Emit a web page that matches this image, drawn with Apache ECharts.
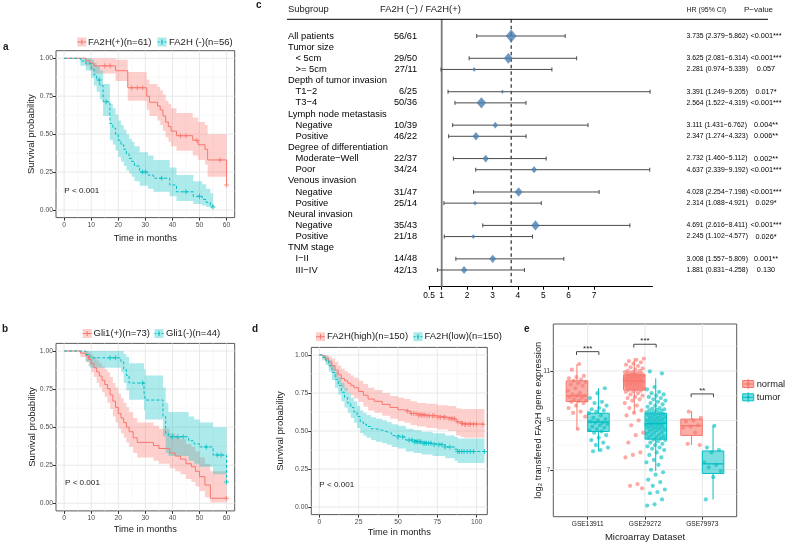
<!DOCTYPE html>
<html><head><meta charset="utf-8">
<script src="https://cdn.jsdelivr.net/npm/echarts@6/dist/echarts.min.js"></script>
<style>html,body{margin:0;padding:0;background:#fff}#c{width:786px;height:543px}</style>
</head><body><div id="c"></div><script>
const FONT = '"Liberation Sans", Arial, Helvetica, sans-serif';
const RED = '#F8766D', TEAL = '#00BFC4';
const RED_BAND = 'rgba(248,118,109,0.34)', TEAL_BAND = 'rgba(0,191,196,0.32)';

// ---------------- Panel a : FA2H(+) / FA2H(-) ----------------
const aPosT  = [0, 8, 9.5, 11, 19, 23.5, 30.5, 31.5, 34.5, 35.5, 36.5, 37.5, 38.5, 39.5, 41.5, 47.5, 49.5, 52, 53, 60];
const aPosS  = [1, .983, .967, .95, .918, .806, .75, .71, .685, .66, .62, .58, .55, .52, .49, .46, .43, .40, .33, .165];
const aPosHi = [1, 1, 1, 1, .99, .91, .86, .83, .81, .79, .76, .72, .70, .67, .64, .61, .58, .56, .50, .42];
const aPosLo = [1, .95, .92, .90, .85, .72, .66, .62, .59, .56, .52, .48, .45, .42, .39, .36, .33, .30, .22, .06];
const aPosCens = [15, 17, 25, 27, 29, 43, 45, 49, 57.5, 60];
const aNegT  = [0, 6, 8, 10, 11, 12, 13.2, 14.4, 16.9, 18, 19, 20, 21, 22, 23, 24, 25, 26, 27.9, 31, 33, 39, 41.5, 47.7, 51, 52.5, 54, 55];
const aNegS  = [1, .982, .964, .93, .89, .857, .82, .714, .57, .54, .50, .46, .43, .40, .37, .34, .32, .29, .25, .23, .21, .165, .12, .09, .07, .05, .03, .02];
const aNegHi = [1, 1, 1, .99, .97, .95, .92, .83, .70, .67, .63, .59, .56, .53, .50, .47, .45, .42, .38, .36, .33, .28, .23, .19, .17, .14, .11, .10];
const aNegLo = [1, .95, .92, .87, .82, .78, .73, .62, .46, .43, .39, .35, .32, .29, .26, .24, .22, .19, .16, .14, .12, .09, .06, .04, .03, .02, .01, .005];
const aNegCens = [13, 15.5, 29, 30, 36, 45, 50, 55];

// ---------------- Panel b : Gli1(+) / Gli1(-) ----------------
const bPosT  = [0, 6, 8, 9, 10, 11, 12, 13, 14, 15, 16, 17, 18, 19, 20, 21, 22, 23, 24, 25.5, 27, 33, 35, 39, 41, 43, 45, 47, 48.5, 50, 52, 54, 60];
const bPosS  = [1, .986, .97, .945, .918, .89, .863, .836, .808, .78, .753, .712, .671, .63, .59, .56, .53, .50, .47, .43, .40, .38, .36, .33, .31, .29, .26, .24, .21, .175, .12, .033, .033];
const bPosHi = [1, 1, 1, .99, .975, .96, .94, .92, .90, .88, .86, .83, .79, .76, .72, .69, .66, .63, .60, .56, .53, .51, .49, .46, .44, .42, .39, .37, .34, .30, .26, .21, .21];
const bPosLo = [1, .96, .93, .90, .86, .83, .79, .76, .73, .70, .66, .62, .57, .53, .49, .46, .43, .40, .37, .33, .30, .28, .26, .23, .21, .19, .16, .14, .11, .08, .04, .005, .005];
const bPosCens = [60];
const bNegT  = [0, 8, 9.5, 21, 22, 23, 24, 29.5, 30, 36.5, 37.5, 38.5, 46, 48, 50, 55, 60];
const bNegS  = [1, .977, .955, .93, .88, .84, .79, .73, .678, .57, .46, .437, .41, .39, .37, .317, .14];
const bNegHi = [1, 1, 1, 1, .98, .96, .92, .88, .84, .76, .66, .60, .57, .55, .53, .50, .45];
const bNegLo = [1, .93, .89, .86, .79, .74, .68, .61, .55, .44, .33, .31, .28, .26, .24, .19, .03];
const bNegCens = [17, 19, 29, 40, 42, 44, 52.5, 56.5, 58, 60];

// ---------------- Panel d : FA2H(high) / FA2H(low) ----------------
const dHighT  = [0, 2, 4, 6, 8, 10, 12, 14, 16, 18, 20, 22, 25, 28, 31, 35, 40, 45, 50, 54, 58, 62, 68, 75, 82, 87, 90, 92, 105];
const dHighS  = [1, .99, .975, .955, .93, .90, .87, .845, .83, .815, .80, .785, .76, .735, .71, .695, .675, .655, .64, .63, .615, .605, .60, .59, .58, .56, .55, .545, .545];
const dHighHi = [1, 1, 1, .99, .975, .955, .93, .91, .895, .88, .865, .85, .83, .81, .785, .77, .75, .73, .72, .71, .695, .685, .68, .67, .665, .65, .645, .645, .645];
const dHighLo = [1, .975, .95, .92, .89, .85, .81, .785, .765, .75, .735, .715, .69, .66, .635, .62, .60, .58, .565, .555, .54, .53, .52, .51, .50, .47, .46, .455, .455];
const dHighCens = [56, 58.5, 60, 61.5, 63, 64, 65, 66, 67, 68.5, 70, 72, 73, 75.5, 77, 79, 80, 82.5, 84, 85, 86, 88, 90.5, 91, 92.5, 93, 95, 96, 98, 100, 104];
const dLowT  = [0, 2, 4, 6, 8, 10, 12, 14, 16, 18, 20, 22, 24, 26, 28, 30, 33, 36, 40, 43, 46, 50, 55, 60, 65, 72, 80, 86, 88, 105];
const dLowS  = [1, .985, .965, .93, .885, .84, .80, .755, .72, .685, .655, .625, .595, .56, .545, .53, .515, .505, .495, .485, .47, .46, .44, .43, .42, .41, .395, .38, .365, .365];
const dLowHi = [1, 1, .99, .965, .93, .89, .855, .815, .785, .75, .72, .695, .665, .635, .62, .605, .59, .58, .57, .56, .545, .535, .515, .505, .495, .485, .47, .46, .45, .45];
const dLowLo = [1, .965, .935, .89, .835, .785, .74, .695, .655, .62, .585, .555, .52, .485, .47, .455, .44, .43, .42, .41, .395, .385, .365, .355, .345, .335, .32, .305, .29, .29];
const dLowCens = [50, 53, 57, 59, 60.5, 61.5, 62.5, 63.5, 64.5, 66, 67, 68, 69.5, 71, 73, 76, 78, 80, 83, 88, 89, 90.5, 92, 94, 96, 98, 105];

// ---------------- Panel c : forest plot ----------------
const fLabels = ['All patients','Tumor size','< 5cm','>= 5cm','Depth of tumor invasion','T1\u22122','T3\u22124','Lymph node metastasis','Negative','Positive','Degree of differentiation','Moderate\u2212Well','Poor','Venous invasion','Negative','Positive','Neural invasion','Negative','Positive','TNM stage','I\u2212II','III\u2212IV'];
const fIndent = [0,0,1,1,0,1,1,0,1,1,0,1,1,0,1,1,0,1,1,0,1,1];
const fCounts = ['56/61','','29/50','27/11','','6/25','50/36','','10/39','46/22','','22/37','34/24','','31/47','25/14','','35/43','21/18','','14/48','42/13'];
const fHR   = [3.735,null,3.625,2.281,null,3.391,2.564,null,3.111,2.347,null,2.732,4.637,null,4.028,2.314,null,4.691,2.245,null,3.008,1.881];
const fLow  = [2.379,null,2.081,0.974,null,1.249,1.522,null,1.431,1.274,null,1.460,2.339,null,2.254,1.088,null,2.616,1.102,null,1.557,0.831];
const fHigh = [5.862,null,6.314,5.339,null,9.205,4.319,null,6.762,4.323,null,5.112,9.192,null,7.198,4.921,null,8.411,4.577,null,5.809,4.258];
const fP = ['<0.001***','','<0.001***','0.057','','0.017*','<0.001***','','0.004**','0.006**','','0.002**','<0.001***','','<0.001***','0.029*','','<0.001***','0.026*','','0.001**','0.130'];
const fWeight = [11,null,9,4,null,3.5,9.5,null,5.5,7,null,6.5,6,null,8,4,null,8.5,4,null,7,6.5];
const fTicks = [0.5,1,2,3,4,5,6,7];

// ---------------- Panel e : microarray boxplots ----------------
const eCats = ['GSE13911','GSE29272','GSE79973'];
const eGroups = ['normal','tumor'];
const e13Normal = [11.28,11.05,10.8,10.75,10.7,10.65,10.6,10.55,10.5,10.45,10.4,10.3,10.2,10.1,10.05,10.0,10.0,9.95,9.9,9.85,9.8,9.78,9.75,9.7,9.6,9.5,9.35,9.3,9.15,8.65];
const e13Tumor = [10.3,10.1,9.9,9.75,9.7,9.6,9.5,9.45,9.4,9.35,9.3,9.2,9.1,9.05,9.0,8.95,8.9,8.9,8.85,8.8,8.75,8.7,8.65,8.6,8.55,8.5,8.4,8.3,8.2,8.1,8.0,7.9,7.8,7.75];
const e29Normal = [11.5,11.45,11.4,11.35,11.3,11.25,11.2,11.15,11.1,11.05,11.0,11.0,10.95,10.95,10.9,10.9,10.9,10.88,10.86,10.85,10.84,10.82,10.8,10.8,10.78,10.76,10.75,10.74,10.72,10.7,10.7,10.68,10.66,10.65,10.64,10.62,10.6,10.6,10.58,10.56,10.55,10.54,10.52,10.5,10.5,10.48,10.46,10.45,10.42,10.4,10.38,10.36,10.35,10.32,10.3,10.28,10.25,10.23,10.2,10.18,10.15,10.1,10.05,10.0,9.95,9.9,9.85,9.8,9.7,9.6,9.5,9.4,9.3,9.2,9.0,8.8,8.5,8.4,8.1,7.7,7.6,7.5,6.42,6.35,6.25];
const e29Tumor = [10.98,10.9,10.35,10.25,10.15,10.1,10.05,10.0,9.95,9.9,9.85,9.8,9.75,9.7,9.65,9.6,9.55,9.5,9.48,9.45,9.42,9.4,9.38,9.35,9.32,9.3,9.28,9.25,9.22,9.2,9.18,9.15,9.12,9.1,9.08,9.05,9.02,9.0,8.98,8.95,8.92,8.9,8.88,8.86,8.84,8.82,8.8,8.78,8.75,8.72,8.7,8.68,8.65,8.62,8.6,8.56,8.52,8.5,8.46,8.42,8.4,8.36,8.32,8.3,8.26,8.22,8.2,8.15,8.1,8.05,8.0,7.95,7.9,7.85,7.8,7.7,7.6,7.5,7.4,7.3,7.2,7.0,6.9,6.8,6.6,6.5,6.35,6.2,6.1,6.05,5.8,5.6,5.55];
const e79Normal = [9.35,9.1,9.0,8.95,8.8,8.75,8.7,8.5,8.05,8.0];
const e79Tumor = [8.78,7.9,7.8,7.7,7.3,7.2,7.1,6.95,6.7,5.8];
// box stats: [min, q1, median, q3, max]
const eBoxNormal = [[8.64,9.76,9.99,10.6,11.28],[9.3,10.23,10.6,10.84,11.5],[8.0,8.39,8.78,9.05,9.38]];
const eBoxTumor  = [[7.74,8.55,8.93,9.29,10.3],[6.95,8.24,8.87,9.29,10.7],[5.8,6.85,7.24,7.76,8.78]];
const eSigLevel = [11.78, 12.08, 10.07];
const eSigLabel = ['***','***','**'];
const eYTicks = [7, 9, 11];

// ================= helpers =================
const PLUS = 'path://M4,0L6,0L6,4L10,4L10,6L6,6L6,10L4,10L4,6L0,6L0,4L4,4Z';
function survAt(t, s, x) { let v = s[0]; for (let i = 0; i < t.length; i++) if (t[i] <= x) v = s[i]; return v; }

function gridLines(gi, xr, yr, xMaj, xMin, yMaj, yMin) {
  return { type: 'custom', xAxisIndex: gi, yAxisIndex: gi, silent: true, z: 0, data: [[xr[0], yr[0]]],
    renderItem(p, api) {
      const ch = [];
      const add = (v, horiz, col, w) => {
        const a = horiz ? api.coord([xr[0], v]) : api.coord([v, yr[0]]);
        const b = horiz ? api.coord([xr[1], v]) : api.coord([v, yr[1]]);
        ch.push({ type: 'line', shape: { x1: a[0], y1: a[1], x2: b[0], y2: b[1] }, style: { stroke: col, lineWidth: w } });
      };
      xMin.forEach(v => add(v, false, '#F3F3F3', 0.6));
      yMin.forEach(v => add(v, true, '#F3F3F3', 0.6));
      xMaj.forEach(v => add(v, false, '#E8E8E8', 1));
      yMaj.forEach(v => add(v, true, '#E8E8E8', 1));
      return { type: 'group', children: ch };
    } };
}
function band(gi, t, lo, hi, fill) {
  return { type: 'custom', xAxisIndex: gi, yAxisIndex: gi, silent: true, z: 1, data: [[t[0], hi[0]]],
    renderItem(p, api) {
      const up = [], dn = [];
      for (let i = 0; i < t.length; i++) {
        const tn = i < t.length - 1 ? t[i + 1] : t[i];
        up.push(api.coord([t[i], hi[i]]), api.coord([tn, hi[i]]));
        dn.push(api.coord([t[i], lo[i]]), api.coord([tn, lo[i]]));
      }
      return { type: 'polygon', shape: { points: up.concat(dn.reverse()) }, style: { fill } };
    } };
}
function curve(gi, t, s, color, dashed) {
  return { type: 'line', xAxisIndex: gi, yAxisIndex: gi, step: 'end', silent: true, z: 2,
    showSymbol: false, symbol: 'none', data: t.map((v, i) => [v, s[i]]),
    lineStyle: { color, width: 1, type: dashed ? [3, 2] : 'solid' } };
}
function censors(gi, t, s, cens, color) {
  return { type: 'scatter', xAxisIndex: gi, yAxisIndex: gi, silent: true, z: 3, symbol: PLUS, symbolSize: 5,
    data: cens.map(c => [c, survAt(t, s, c)]), itemStyle: { color } };
}
const tickStyle = { lineStyle: { color: '#333', width: 1 } };
function kmX(gi, min, max, ticks) {
  return { type: 'value', gridIndex: gi, min, max, splitLine: { show: false }, axisLine: { show: false, onZero: false },
    axisTick: Object.assign({ show: true, length: 3, customValues: ticks }, tickStyle),
    axisLabel: { customValues: ticks, fontSize: 6.8, fontFamily: FONT, color: '#4D4D4D', margin: 4 } };
}
const kmYTicks = [0, 0.25, 0.5, 0.75, 1];
function kmY(gi) {
  return { type: 'value', gridIndex: gi, min: -0.05, max: 1.05, splitLine: { show: false }, axisLine: { show: false, onZero: false },
    axisTick: Object.assign({ show: true, length: 3, customValues: kmYTicks }, tickStyle),
    axisLabel: { customValues: kmYTicks, formatter: v => v.toFixed(2), fontSize: 6.8, fontFamily: FONT, color: '#4D4D4D', margin: 3 } };
}
function txt(x, y, text, size, o = {}) {
  return { type: 'text', x, y, rotation: o.rot || 0, silent: true, z: 20,
    style: { text, fontSize: size, fontFamily: FONT, fontWeight: o.bold ? 'bold' : 'normal', fill: o.color || '#1A1A1A',
      align: o.align || 'left', verticalAlign: o.va || 'middle' } };
}
function kmKey(x, yc, color, fill, dashed) {
  return { type: 'group', x, y: yc, silent: true, z: 20, children: [
    { type: 'rect', shape: { x: 0, y: -4.5, width: 9, height: 9 }, style: { fill } },
    { type: 'line', shape: { x1: 0, y1: 0, x2: 9, y2: 0 }, style: { stroke: color, lineWidth: 1, lineDash: dashed ? [2, 1.5] : null } },
    { type: 'line', shape: { x1: 4.5, y1: -2.5, x2: 4.5, y2: 2.5 }, style: { stroke: color, lineWidth: 1 } } ] };
}
function boxKey(x, yc, color, fill) {
  return { type: 'group', x, y: yc, silent: true, z: 20, children: [
    { type: 'line', shape: { x1: 5.5, y1: -5, x2: 5.5, y2: 5 }, style: { stroke: color, lineWidth: 1 } },
    { type: 'rect', shape: { x: 0, y: -3.5, width: 11, height: 7 }, style: { fill, stroke: color, lineWidth: 1 } },
    { type: 'line', shape: { x1: 0, y1: 0, x2: 11, y2: 0 }, style: { stroke: color, lineWidth: 1 } },
    { type: 'circle', shape: { cx: 5.5, cy: 0, r: 1.8 }, style: { fill: color, opacity: 0.8 } } ] };
}

// ================= grids =================
const grids = [
  { left: 56, top: 50.7, width: 178.7, height: 166.9 },     // a
  { left: 56, top: 343.4, width: 178.7, height: 167.5 },    // b
  { left: 429, top: 19.3, width: 223.5, height: 267.4 },    // c
  { left: 311.3, top: 347.4, width: 176, height: 167.2 },   // d
  { left: 553.3, top: 324, width: 183.4, height: 192.7 }    // e
].map((g, i) => Object.assign({ show: i !== 2, borderColor: '#5A5A5A', borderWidth: 1, backgroundColor: '#fff', outerBoundsMode: 'none', containLabel: false }, g));

const kmTA = [0, 10, 20, 30, 40, 50, 60], kmTAmin = [5, 15, 25, 35, 45, 55];
const kmTD = [0, 25, 50, 75, 100], kmTDmin = [12.5, 37.5, 62.5, 87.5];
const kmYmin = [0.125, 0.375, 0.625, 0.875];

const xAxes = [
  kmX(0, -3, 63, kmTA), kmX(1, -3, 63, kmTA),
  { type: 'value', gridIndex: 2, min: 0.5, max: 9.3, splitLine: { show: false },
    axisLine: { show: true, onZero: false, lineStyle: { color: '#000', width: 1 } },
    axisTick: { show: true, length: 3, customValues: fTicks, lineStyle: { color: '#000' } },
    axisLabel: { customValues: fTicks, formatter: v => String(v), fontSize: 8.4, fontFamily: FONT, color: '#000', margin: 5 } },
  kmX(3, -5.1, 106.8, kmTD),
  { type: 'value', gridIndex: 4, min: 0.4, max: 3.6, splitLine: { show: false }, axisLine: { show: false, onZero: false },
    axisTick: Object.assign({ show: true, length: 3, customValues: [1, 2, 3] }, tickStyle),
    axisLabel: { customValues: [1, 2, 3], formatter: v => eCats[Math.round(v) - 1], fontSize: 6.6, fontFamily: FONT, color: '#1A1A1A', margin: 4 } }
];

const pad = a => [''].concat(a, ['']);
const hrText = fHR.map((h, i) => h == null ? '' : `${h.toFixed(3)} (${fLow[i].toFixed(3)}\u2212${fHigh[i].toFixed(3)})`);
function colAxis(data, position, offset, align, size) {
  return { type: 'category', gridIndex: 2, position, offset, inverse: true, data: pad(data),
    axisLine: { show: false, onZero: false }, axisTick: { show: false }, splitLine: { show: false },
    axisLabel: { interval: 0, align, margin: 0, fontSize: size, fontFamily: FONT, color: '#000' } };
}
const yAxes = [
  kmY(0), kmY(1),
  { type: 'value', gridIndex: 2, inverse: true, min: -0.5, max: 23.5, show: false, axisLine: { onZero: false } },
  kmY(3),
  { type: 'value', gridIndex: 4, min: 5.1, max: 12.9, splitLine: { show: false }, axisLine: { show: false, onZero: false },
    axisTick: Object.assign({ show: true, length: 3, customValues: eYTicks }, tickStyle),
    axisLabel: { customValues: eYTicks, fontSize: 6.8, fontFamily: FONT, color: '#4D4D4D', margin: 3 } },
  colAxis(fLabels.map((l, i) => fIndent[i] ? '' : l), 'left', 429 - 288, 'left', 9.4),
  colAxis(fLabels.map((l, i) => fIndent[i] ? l : ''), 'left', 429 - 295.5, 'left', 9.4),
  colAxis(fCounts, 'left', 429 - 417, 'right', 9.2),
  colAxis(hrText, 'right', 686.5 - 652.5, 'left', 6.8),
  colAxis(fP, 'right', 766 - 652.5, 'center', 7.3)
];

// ================= series =================
const series = [];
series.push(gridLines(0, [-3, 63], [-0.05, 1.05], kmTA, kmTAmin, kmYTicks, kmYmin));
series.push(band(0, aPosT, aPosLo, aPosHi, RED_BAND), band(0, aNegT, aNegLo, aNegHi, TEAL_BAND));
series.push(curve(0, aPosT, aPosS, RED, false), curve(0, aNegT, aNegS, TEAL, true));
series.push(censors(0, aPosT, aPosS, aPosCens, RED), censors(0, aNegT, aNegS, aNegCens, TEAL));

series.push(gridLines(1, [-3, 63], [-0.05, 1.05], kmTA, kmTAmin, kmYTicks, kmYmin));
series.push(band(1, bPosT, bPosLo, bPosHi, RED_BAND), band(1, bNegT, bNegLo, bNegHi, TEAL_BAND));
series.push(curve(1, bPosT, bPosS, RED, false), curve(1, bNegT, bNegS, TEAL, true));
series.push(censors(1, bPosT, bPosS, bPosCens, RED), censors(1, bNegT, bNegS, bNegCens, TEAL));

series.push(gridLines(3, [-5.1, 106.8], [-0.05, 1.05], kmTD, kmTDmin, kmYTicks, kmYmin));
series.push(band(3, dHighT, dHighLo, dHighHi, RED_BAND), band(3, dLowT, dLowLo, dLowHi, TEAL_BAND));
series.push(curve(3, dHighT, dHighS, RED, false), curve(3, dLowT, dLowS, TEAL, true));
series.push(censors(3, dHighT, dHighS, dHighCens, RED), censors(3, dLowT, dLowS, dLowCens, TEAL));

// forest: reference lines (HR = 1 and overall HR)
series.push({ type: 'custom', xAxisIndex: 2, yAxisIndex: 2, silent: true, z: 1, data: [[1, 1], [fHR[0], 1]],
  renderItem(p, api) {
    const a = api.coord([api.value(0), -0.5]), b = api.coord([api.value(0), 23.5]);
    const solid = p.dataIndex === 0;
    return { type: 'line', shape: { x1: a[0], y1: a[1], x2: b[0], y2: b[1] },
      style: solid ? { stroke: '#7A7A7A', lineWidth: 1.8 } : { stroke: '#000', lineWidth: 1, lineDash: [3.5, 3] } };
  } });
// forest: whiskers and diamonds
const fWhisk = [], fPts = [];
fHR.forEach((h, i) => { if (h != null) { fWhisk.push([fLow[i], fHigh[i], i + 1]); fPts.push([h, i + 1, fWeight[i]]); } });
series.push({ type: 'custom', xAxisIndex: 2, yAxisIndex: 2, silent: true, z: 2, encode: { x: [0, 1], y: 2 }, data: fWhisk,
  renderItem(p, api) {
    const a = api.coord([api.value(0), api.value(2)]), b = api.coord([api.value(1), api.value(2)]);
    const st = { stroke: '#4A4A4A', lineWidth: 1 };
    return { type: 'group', children: [
      { type: 'line', shape: { x1: a[0], y1: a[1], x2: b[0], y2: b[1] }, style: st },
      { type: 'line', shape: { x1: a[0], y1: a[1] - 2, x2: a[0], y2: a[1] + 2 }, style: st },
      { type: 'line', shape: { x1: b[0], y1: b[1] - 2, x2: b[0], y2: b[1] + 2 }, style: st } ] };
  } });
series.push({ type: 'scatter', xAxisIndex: 2, yAxisIndex: 2, silent: true, z: 3, symbol: 'diamond',
  symbolSize: v => [v[2], v[2] * 1.2], data: fPts, itemStyle: { color: '#4A7FB0' } });

// panel e
series.push(gridLines(4, [0.4, 3.6], [5.1, 12.9], [1, 2, 3], [], eYTicks, [6, 8, 10, 12]));
const eColors = [RED, TEAL];
const eFills = ['rgba(248,118,109,0.6)', 'rgba(0,191,196,0.52)'];
const DODGE = 0.1875;
const boxData = [];
eBoxNormal.forEach((b, i) => boxData.push([i + 1, 0].concat(b)));
eBoxTumor.forEach((b, i) => boxData.push([i + 1, 1].concat(b)));
series.push({ type: 'custom', xAxisIndex: 4, yAxisIndex: 4, silent: true, z: 2, encode: { x: 0, y: 4 }, data: boxData,
  renderItem(p, api) {
    const g = api.value(1), xc = api.value(0) + (g === 0 ? -DODGE : DODGE);
    const c = k => api.coord([xc, api.value(k)]);
    const L = api.coord([xc - DODGE, 0])[0], R = api.coord([xc + DODGE, 0])[0];
    const pMin = c(2), pQ1 = c(3), pMed = c(4), pQ3 = c(5), pMax = c(6);
    const col = eColors[g];
    return { type: 'group', children: [
      { type: 'line', shape: { x1: pMin[0], y1: pMin[1], x2: pQ1[0], y2: pQ1[1] }, style: { stroke: col, lineWidth: 1 } },
      { type: 'line', shape: { x1: pQ3[0], y1: pQ3[1], x2: pMax[0], y2: pMax[1] }, style: { stroke: col, lineWidth: 1 } },
      { type: 'rect', shape: { x: L, y: pQ3[1], width: R - L, height: pQ1[1] - pQ3[1] }, style: { fill: eFills[g], stroke: col, lineWidth: 1 } },
      { type: 'line', shape: { x1: L, y1: pMed[1], x2: R, y2: pMed[1] }, style: { stroke: col, lineWidth: 1.3 } } ] };
  } });
const ePointSets = [[e13Normal, e13Tumor], [e29Normal, e29Tumor], [e79Normal, e79Tumor]];
[0, 1].forEach(g => {
  const pts = [];
  ePointSets.forEach((pair, ci) => {
    pair[g].forEach((v, i) => {
      const jit = (((i + 1) * 0.618034 + ci * 0.37 + g * 0.21) % 1 - 0.5) * 0.34;
      pts.push([ci + 1 + (g === 0 ? -DODGE : DODGE) + jit, v]);
    });
  });
  series.push({ type: 'scatter', xAxisIndex: 4, yAxisIndex: 4, silent: true, z: 3, symbolSize: 4.2, data: pts,
    itemStyle: { color: eColors[g], opacity: 0.62 } });
});
series.push({ type: 'custom', xAxisIndex: 4, yAxisIndex: 4, silent: true, z: 4,
  data: eSigLevel.map((lv, i) => [i + 1, lv, i]),
  renderItem(p, api) {
    const a = api.coord([api.value(0) - 0.195, api.value(1)]), b = api.coord([api.value(0) + 0.195, api.value(1)]);
    const st = { stroke: '#333', lineWidth: 0.9 };
    return { type: 'group', children: [
      { type: 'polyline', shape: { points: [[a[0], a[1] + 3.3], a, b, [b[0], b[1] + 3.3]] }, style: Object.assign({ fill: null }, st) },
      { type: 'text', x: (a[0] + b[0]) / 2, y: a[1] + 0.8, style: { text: eSigLabel[api.value(2)], fontSize: 8, fontFamily: FONT, fill: '#1A1A1A', align: 'center', verticalAlign: 'bottom' } } ] };
  } });

// ================= graphic (titles, legends, headers) =================
const graphic = [
  txt(3, 47, 'a', 10, { bold: true }), txt(2, 329, 'b', 10, { bold: true }), txt(256, 5, 'c', 10, { bold: true }),
  txt(252, 329, 'd', 10, { bold: true }), txt(524, 329, 'e', 10, { bold: true }),
  // panel a
  kmKey(77.3, 42, RED, RED_BAND, false), txt(88, 42, 'FA2H(+)(n=61)', 9.5),
  kmKey(157.5, 42, TEAL, TEAL_BAND, true), txt(169, 42, 'FA2H (-)(n=56)', 9.5),
  txt(31.7, 134.2, 'Survival probability', 9.5, { rot: Math.PI / 2, align: 'center' }),
  txt(145.3, 238.3, 'Time in months', 9.3, { align: 'center' }),
  txt(64.3, 190.7, 'P < 0.001', 8.1),
  // panel b
  kmKey(82.7, 333.5, RED, RED_BAND, false), txt(93.5, 333.5, 'Gli1(+)(n=73)', 9.5),
  kmKey(154.5, 333.5, TEAL, TEAL_BAND, true), txt(166, 333.5, 'Gli1(-)(n=44)', 9.5),
  txt(32.3, 427, 'Survival probability', 9.5, { rot: Math.PI / 2, align: 'center' }),
  txt(145.3, 529.5, 'Time in months', 9.3, { align: 'center' }),
  txt(65, 482.3, 'P < 0.001', 8.1),
  // panel d
  kmKey(316, 336.7, RED, RED_BAND, false), txt(327, 336.7, 'FA2H(high)(n=150)', 9.5),
  kmKey(413.5, 336.7, TEAL, TEAL_BAND, true), txt(424.5, 336.7, 'FA2H(low)(n=150)', 9.5),
  txt(280, 431, 'Survival probability', 9.5, { rot: Math.PI / 2, align: 'center' }),
  txt(399.3, 532, 'Time in months', 9.3, { align: 'center' }),
  txt(319.3, 484.3, 'P < 0.001', 8.1),
  // panel e
  boxKey(742.7, 384, RED, eFills[0]), txt(756.7, 384, eGroups[0], 9.3),
  boxKey(742.7, 397.3, TEAL, eFills[1]), txt(756.7, 397.3, eGroups[1], 9.3),
  txt(538.3, 420.3, 'log\u2082 transfered FA2H gene expression', 9.3, { rot: Math.PI / 2, align: 'center' }),
  txt(645, 537.3, 'Microarray Dataset', 9.5, { align: 'center' }),
  // panel c headers
  txt(288, 9.5, 'Subgroup', 9.4), txt(380, 9.5, 'FA2H (\u2212) / FA2H(+)', 9.4),
  txt(686.5, 10, 'HR (95% CI)', 7), txt(758.5, 10, 'P\u2212value', 8, { align: 'center' }),
  { type: 'line', silent: true, z: 20, shape: { x1: 287, y1: 19.3, x2: 768, y2: 19.3 }, style: { stroke: '#000', lineWidth: 1 } }
];

const chart = echarts.init(document.getElementById('c'), null, { renderer: 'canvas' });
chart.setOption({ animation: false, backgroundColor: '#fff', textStyle: { fontFamily: FONT },
  grid: grids, xAxis: xAxes, yAxis: yAxes, series, graphic });
</script></body></html>
